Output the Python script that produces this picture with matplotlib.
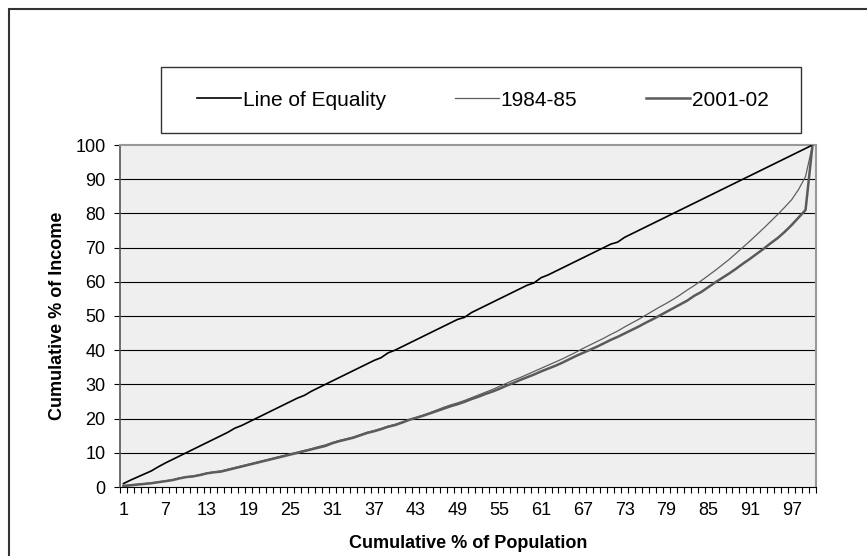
import numpy as np
import matplotlib
matplotlib.use("Agg")
import matplotlib.pyplot as plt
from matplotlib.patches import Rectangle

plt.rcParams['font.family'] = ['Liberation Sans', 'DejaVu Sans']

# cumulative % of population (categories 1..100)
population = list(range(1, 101))

equality = [1.0, 2.0, 2.9, 3.8, 4.7, 5.9, 7.0, 8.0, 9.0, 10.0,
            11.0, 12.0, 13.0, 14.0, 15.0, 16.0, 17.2, 18.0, 19.0, 20.0,
            21.0, 22.0, 23.0, 24.0, 25.0, 26.0, 26.8, 28.0, 29.0, 30.0,
            31.0, 32.0, 33.0, 34.0, 35.0, 36.0, 37.0, 37.8, 39.2, 40.0,
            41.0, 42.0, 43.0, 44.0, 45.0, 46.0, 47.0, 48.0, 49.0, 49.6,
            51.0, 52.0, 53.0, 54.0, 55.0, 56.0, 57.0, 58.0, 59.0, 59.7,
            61.2, 62.0, 63.0, 64.0, 65.0, 66.0, 67.0, 68.0, 69.0, 70.0,
            71.0, 71.6, 73.0, 74.0, 75.0, 76.0, 77.0, 78.0, 79.0, 80.0,
            81.0, 82.0, 83.0, 84.0, 85.0, 86.0, 87.0, 88.0, 89.0, 90.0,
            91.0, 92.0, 93.0, 94.0, 95.0, 96.0, 97.0, 98.0, 99.0, 100.0]

income_1984 = [0.4, 0.6, 0.8, 1.0, 1.2, 1.5, 1.8, 2.1, 2.6, 3.0,
               3.2, 3.6, 4.1, 4.4, 4.7, 5.2, 5.7, 6.2, 6.7, 7.2,
               7.7, 8.2, 8.7, 9.2, 9.7, 10.2, 10.7, 11.2, 11.8, 12.3,
               13.0, 13.6, 14.1, 14.6, 15.3, 16.0, 16.5, 17.1, 17.8, 18.3,
               19.0, 19.7, 20.3, 21.0, 21.7, 22.5, 23.3, 24.0, 24.6, 25.3,
               26.1, 26.9, 27.7, 28.5, 29.4, 30.3, 31.2, 32.0, 32.9, 33.8,
               34.7, 35.6, 36.5, 37.4, 38.4, 39.4, 40.5, 41.5, 42.5, 43.5,
               44.6, 45.6, 46.8, 47.9, 49.0, 50.2, 51.4, 52.6, 53.7, 54.9,
               56.2, 57.6, 58.9, 60.3, 61.8, 63.3, 64.9, 66.5, 68.3, 70.1,
               71.9, 73.8, 75.7, 77.7, 79.7, 81.8, 84.0, 87.0, 90.8, 100.0]

income_2001 = [0.3, 0.5, 0.7, 0.9, 1.1, 1.4, 1.7, 2.0, 2.5, 2.9,
               3.1, 3.5, 4.0, 4.3, 4.5, 5.0, 5.5, 6.0, 6.5, 7.0,
               7.5, 8.0, 8.5, 9.0, 9.5, 10.0, 10.5, 11.0, 11.5, 12.0,
               12.8, 13.4, 13.9, 14.4, 15.1, 15.8, 16.3, 16.9, 17.6, 18.1,
               18.8, 19.6, 20.2, 20.8, 21.5, 22.2, 22.9, 23.6, 24.2, 24.9,
               25.7, 26.4, 27.2, 27.9, 28.7, 29.6, 30.4, 31.3, 32.1, 32.9,
               33.8, 34.6, 35.4, 36.3, 37.3, 38.3, 39.2, 40.1, 41.0, 42.0,
               43.0, 43.9, 44.9, 45.9, 46.9, 48.0, 49.0, 50.1, 51.2, 52.3,
               53.4, 54.5, 55.9, 57.0, 58.4, 59.8, 61.1, 62.4, 63.8, 65.3,
               66.7, 68.2, 69.7, 71.3, 72.8, 74.6, 76.6, 78.8, 81.0, 100.0]

x_labels = [str(v) for v in range(1, 101, 6)]
y_ticks = list(range(0, 101, 10))

W, H = 867, 556
fig = plt.figure(figsize=(W / 100, H / 100), dpi=100)
ax = fig.add_axes([120 / W, 1 - 487 / H, 696 / W, 342 / H])
ax.set_facecolor('#efefef')

# outer chart frame (cut off at the right and bottom)
fig.add_artist(Rectangle((8.5 / W, -0.2), 1.3, 1.2 - 8.5 / H, transform=fig.transFigure,
                         fill=False, edgecolor='#333333', linewidth=1.5))

for y in y_ticks[1:-1]:
    ax.axhline(y, color='black', linewidth=0.8, zorder=1)

l1, = ax.plot(population, equality, color='black', linewidth=1.2, zorder=3)
l2, = ax.plot(population, income_1984, color='#5e5e5e', linewidth=0.9, zorder=3)
l3, = ax.plot(population, income_2001, color='#5a5a5a', linewidth=1.8, zorder=2)

ax.set_xlim(0.5, 100.5)
ax.set_ylim(0, 100)
ax.set_yticks(y_ticks)
ax.set_xticks([int(v) for v in x_labels])
ax.set_xticklabels(x_labels)
ax.set_xticks(np.arange(0.5, 101, 1), minor=True)
ax.tick_params(axis='x', which='major', length=0, pad=11, labelsize=13)
ax.tick_params(axis='x', which='minor', length=4, width=0.8, direction='out')
ax.tick_params(axis='y', length=4, width=0.8, pad=6.5, labelsize=13)

ax.spines['top'].set_color('#999999')
ax.spines['right'].set_color('#999999')
ax.spines['top'].set_linewidth(1.5)
ax.spines['right'].set_linewidth(1.5)
ax.spines['left'].set_color('#555555')
ax.spines['left'].set_linewidth(1.2)
ax.spines['bottom'].set_color('black')

ax.set_xlabel('Cumulative % of Population', fontsize=13, fontweight='bold')
ax.set_ylabel('Cumulative % of Income', fontsize=13, fontweight='bold')
ax.xaxis.set_label_coords(0.5, -48 / 342)
ax.yaxis.set_label_coords(-54 / 696, 0.5)

# legend box
fig.add_artist(Rectangle((160.5 / W, 1 - 133 / H), 641 / W, 66 / H, transform=fig.transFigure,
                         fill=False, edgecolor='#333333', linewidth=1.0))
fig.legend([l1, l2, l3], ['Line of Equality', '1984-85', '2001-02'], ncol=3,
           loc='center', bbox_to_anchor=(197 / W, 1 - 133 / H, 572 / W, 66 / H),
           mode='expand', frameon=False, fontsize=15, handlelength=2.1,
           handletextpad=0.1, borderaxespad=0, borderpad=0)

fig.savefig('out.png', dpi=100)
